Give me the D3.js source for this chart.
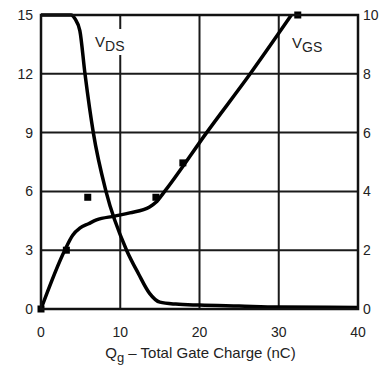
<!DOCTYPE html>
<html>
<head>
<meta charset="utf-8">
<script src="https://cdn.jsdelivr.net/npm/d3@7"></script>
<style>
  body { margin: 0; background: #fff; }
  text { font-family: "Liberation Sans", Arial, sans-serif; fill: #222; }
</style>
</head>
<body>
<div id="chart"></div>
<script>
// Gate charge data
const qVds = [0, 3.8, 4.3, 4.9, 5.55, 6.6, 8.2, 10.8, 12.3, 13.7, 15, 17, 20, 25, 30, 40];
const vds = [15, 15, 14.8, 14.2, 12, 9, 6, 3, 1.8, 0.8, 0.35, 0.25, 0.2, 0.15, 0.1, 0.08];

// VGS is on the right axis (0-10)
const qVgs = [0, 3, 4, 4.9, 6, 7, 9.3, 11.2, 13.7, 14.5, 15.6, 20.9, 26.4, 31.6];
const vgs = [0, 2, 2.51, 2.75, 2.9, 3.03, 3.16, 3.27, 3.47, 3.63, 4, 6, 8, 10];

const qMarks = [0, 3.2, 5.9, 14.5, 17.9, 32.4];
const vgsMarks = [0, 2, 3.8, 3.8, 4.97, 10];

const xTicks = [0, 10, 20, 30, 40];
const yLeftTicks = [0, 3, 6, 9, 12, 15];
const yRightTicks = [0, 2, 4, 6, 8, 10];

const W = 384, H = 372;
const margin = { top: 15, right: 26, bottom: 63, left: 41 },
    width = W - margin.left - margin.right,
    height = H - margin.top - margin.bottom;

const svg = d3.select("#chart").append("svg")
    .attr("width", W).attr("height", H);
const g = svg.append("g").attr("transform", `translate(${margin.left},${margin.top})`);

const x = d3.scaleLinear().domain([0, 40]).range([0, width]);
const yL = d3.scaleLinear().domain([0, 15]).range([height, 0]);
const yR = d3.scaleLinear().domain([0, 10]).range([height, 0]);

// Grid
g.selectAll(".vgrid").data(xTicks).enter().append("line")
    .attr("x1", d => x(d)).attr("x2", d => x(d))
    .attr("y1", 0).attr("y2", height)
    .attr("stroke", "#1a1a1a").attr("stroke-width", 2);
g.selectAll(".hgrid").data(yLeftTicks).enter().append("line")
    .attr("x1", 0).attr("x2", width)
    .attr("y1", d => yL(d)).attr("y2", d => yL(d))
    .attr("stroke", "#1a1a1a").attr("stroke-width", 2);

// Tick labels
g.selectAll(".xl").data(xTicks).enter().append("text")
    .attr("x", d => x(d)).attr("y", height + 28)
    .attr("text-anchor", "middle").style("font-size", "14px")
    .text(d => d);
g.selectAll(".yl").data(yLeftTicks).enter().append("text")
    .attr("x", -8).attr("y", d => yL(d) + 5)
    .attr("text-anchor", "end").style("font-size", "14px")
    .text(d => d);
g.selectAll(".yr").data(yRightTicks).enter().append("text")
    .attr("x", width + 5).attr("y", d => yR(d) + 5)
    .attr("text-anchor", "start").style("font-size", "14px")
    .text(d => d);

// Axis title
const title = svg.append("text")
    .attr("x", margin.left + width / 2 + 1).attr("y", 358)
    .attr("text-anchor", "middle").style("font-size", "15px");
title.append("tspan").text("Q");
title.append("tspan").attr("dy", 4).style("font-size", "13px").text("g");
title.append("tspan").attr("dy", -4).text(" \u2013 Total Gate Charge (nC)");

// Curve labels (VDS sits on a white patch over the grid)
g.append("rect").attr("x", 52).attr("y", 14).attr("width", 34).attr("height", 26).attr("fill", "#fff");
const lds = g.append("text").attr("x", 54).attr("y", 32).style("font-size", "15px");
lds.append("tspan").text("V");
lds.append("tspan").attr("dy", 4).style("font-size", "14px").text("DS");
const lgs = g.append("text").attr("x", 251).attr("y", 33).style("font-size", "15px");
lgs.append("tspan").text("V");
lgs.append("tspan").attr("dy", 4).style("font-size", "14px").text("GS");

const vdsLine = d3.line()
    .x(d => x(d[0])).y(d => yL(d[1]))
    .curve(d3.curveMonotoneX);
g.append("path")
    .datum(qVds.map((q, i) => [q, vds[i]]))
    .attr("d", vdsLine)
    .attr("fill", "none").attr("stroke", "#000").attr("stroke-width", 3.5)
    .attr("stroke-linejoin", "round");

const vgsLine = d3.line()
    .x(d => x(d[0])).y(d => yR(d[1]))
    .curve(d3.curveMonotoneX);
g.append("path")
    .datum(qVgs.map((q, i) => [q, vgs[i]]))
    .attr("d", vgsLine)
    .attr("fill", "none").attr("stroke", "#000").attr("stroke-width", 3.5)
    .attr("stroke-linejoin", "round");

// Markers
g.selectAll(".mark").data(qMarks.map((q, i) => [q, vgsMarks[i]])).enter().append("rect")
    .attr("x", d => x(d[0]) - 3.5).attr("y", d => yR(d[1]) - 3.5)
    .attr("width", 7).attr("height", 7).attr("fill", "#000");

// Frame
g.append("rect").attr("width", width).attr("height", height)
    .attr("fill", "none").attr("stroke", "#111").attr("stroke-width", 2.5);
</script>
</body>
</html>
